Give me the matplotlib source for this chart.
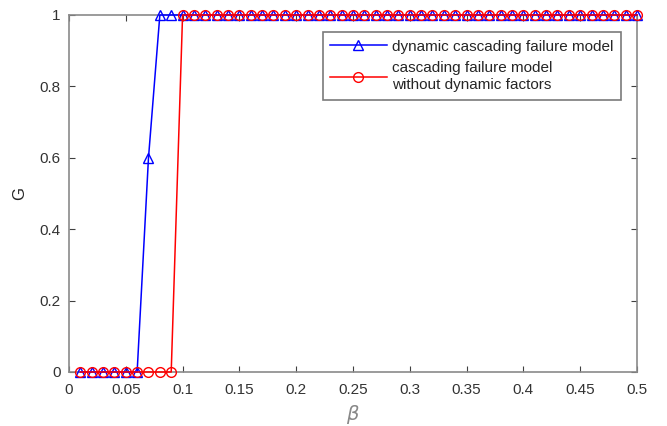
import matplotlib
matplotlib.use("Agg")
import matplotlib.pyplot as plt
import numpy as np

plt.rcParams['font.family'] = ['Liberation Sans', 'DejaVu Sans']

beta = np.round(np.arange(1, 51) * 0.01, 2)
g_dynamic = [0, 0, 0, 0, 0, 0, 0.6] + [1] * 43
g_static = [0] * 9 + [1] * 41

x_ticks = [0, 0.05, 0.1, 0.15, 0.2, 0.25, 0.3, 0.35, 0.4, 0.45, 0.5]
x_ticklabels = ['0', '0.05', '0.1', '0.15', '0.2', '0.25', '0.3', '0.35', '0.4', '0.45', '0.5']
y_ticks = [0, 0.2, 0.4, 0.6, 0.8, 1]
y_ticklabels = ['0', '0.2', '0.4', '0.6', '0.8', '1']

fig = plt.figure(figsize=(6.67, 4.26), dpi=100)
ax = fig.add_axes([0.1034, 0.1268, 0.955 - 0.1034, 0.9648 - 0.1268])

ax.plot(beta, g_dynamic, color=(0, 0, 1), lw=1.1, marker='^', ms=7,
        mfc='none', mec=(0, 0, 1), mew=1.0, clip_on=False, zorder=3,
        label='dynamic cascading failure model')
ax.plot(beta, g_static, color=(1, 0, 0), lw=1.1, marker='o', ms=7,
        mfc='none', mec=(1, 0, 0), mew=1.0, clip_on=False, zorder=3,
        label='cascading failure model\nwithout dynamic factors')

ax.set_xlim(0, 0.5)
ax.set_ylim(0, 1)
ax.set_xticks(x_ticks)
ax.set_xticklabels(x_ticklabels)
ax.set_yticks(y_ticks)
ax.set_yticklabels(y_ticklabels)

spine_col = '#8a8a8a'
for s in ax.spines.values():
    s.set_color(spine_col)
    s.set_linewidth(1.2)
ax.tick_params(direction='in', length=4, width=0.8, color='#404040',
               labelsize=11, labelcolor='#333333', top=True, right=True)
ax.tick_params(axis='x', pad=8)
ax.tick_params(axis='y', pad=6)

ax.set_xlabel(r'$\beta$', fontsize=14, color='#888888', labelpad=4)
ax.set_ylabel('G', fontsize=12, color='#262626', labelpad=9)

leg = ax.legend(loc='upper right', bbox_to_anchor=(0.972, 0.952),
                borderaxespad=0, fontsize=11, frameon=True, fancybox=False,
                handlelength=3.7, borderpad=0.5, labelspacing=0.45,
                handletextpad=0.35)
leg.get_frame().set_edgecolor('#7a7a7a')
leg.get_frame().set_linewidth(1.2)
leg.get_frame().set_alpha(1)
for t in leg.get_texts():
    t.set_color('#262626')
    t.set_linespacing(1.35)

fig.savefig('out.png', dpi=100)
